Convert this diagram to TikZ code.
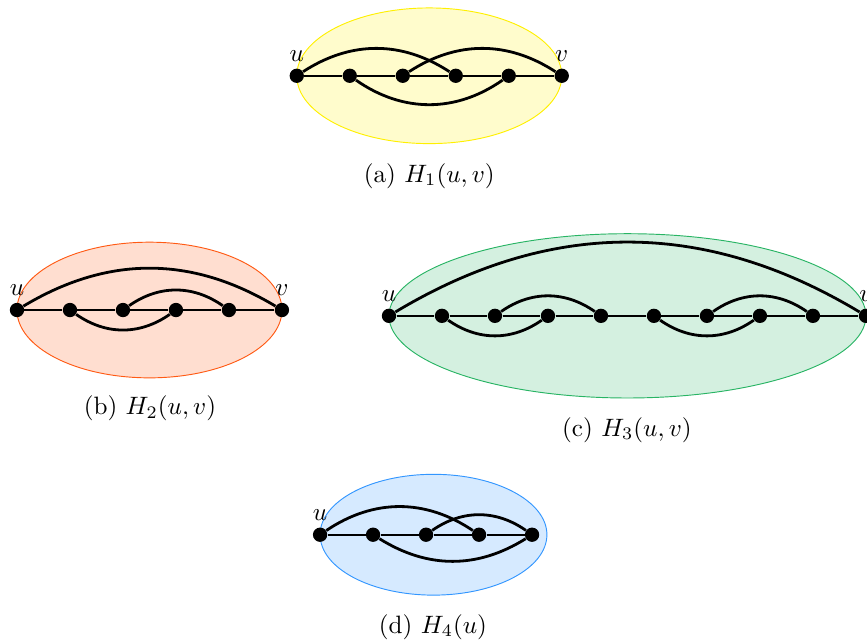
\documentclass[tikz,border=0pt]{standalone}
\usepackage{amsmath}
\usepackage{graphicx}
\usepackage{tikz}
\usetikzlibrary{positioning}
\definecolor{yellowline}{RGB}{255,240,0}
\definecolor{orangeline}{RGB}{255,90,20}
\definecolor{greenline}{RGB}{40,180,100}
\definecolor{blueline}{RGB}{50,150,255}
\newcommand{\vlab}[1]{\scalebox{1.35}{$#1$}}
\newcommand{\subcaptext}[1]{\scalebox{1.35}{#1}}

\begin{document}
\begin{tikzpicture}[
  vtx/.style    = {circle, fill=black, inner sep=0pt, minimum size=2.7mm,
                   label distance=-2.5pt},
  spine/.style  = {line width=1.3pt},
  chord/.style  = {line width=1.5pt},
  blob/.style   = {line width=0.5pt},
  subcap/.style = {inner sep=1pt}
]
\useasboundingbox (0,0) rectangle (16.36,-12.075);

% (a) H_1(u,v)
\draw[blob, yellowline, fill=yellow!20] (8.10,-1.43) ellipse [x radius=2.5cm, y radius=1.28cm];
\node[vtx, label=above:\vlab{u}] (a0) at (5.60,-1.43) {};
\node[vtx] (a1) at (6.60,-1.43) {};
\node[vtx] (a2) at (7.60,-1.43) {};
\node[vtx] (a3) at (8.60,-1.43) {};
\node[vtx] (a4) at (9.60,-1.43) {};
\node[vtx, label=above:\vlab{v}] (a5) at (10.60,-1.43) {};
\draw[spine] (a0) -- (a1) -- (a2) -- (a3) -- (a4) -- (a5);
\draw[chord] (a0) to[bend left=33] (a3);
\draw[chord] (a2) to[bend left=33] (a5);
\draw[chord] (a1) to[bend right=35] (a4);
\node[subcap] (capa) at (8.10,-3.32) {\subcaptext{(a)~$H_1(u,v)$}};

% (b) H_2(u,v)
\draw[blob, orangeline, fill=orangeline!20] (2.82,-5.85) ellipse [x radius=2.5cm, y radius=1.28cm];
\node[vtx, label=above:\vlab{u}] (b0) at (0.32,-5.85) {};
\node[vtx] (b1) at (1.32,-5.85) {};
\node[vtx] (b2) at (2.32,-5.85) {};
\node[vtx] (b3) at (3.32,-5.85) {};
\node[vtx] (b4) at (4.32,-5.85) {};
\node[vtx, label=above:\vlab{v}] (b5) at (5.32,-5.85) {};
\draw[spine] (b0) -- (b1) -- (b2) -- (b3) -- (b4) -- (b5);
\draw[chord] (b0) to[bend left=31] (b5);
\draw[chord] (b2) to[bend left=35] (b4);
\draw[chord] (b1) to[bend right=35] (b3);
\node[subcap] (capb) at (2.83,-7.70) {\subcaptext{(b)~$H_2(u,v)$}};

% (c) H_3(u,v)
\draw[blob, greenline, fill=greenline!20] (11.84,-5.96) ellipse [x radius=4.5cm, y radius=1.55cm];
\node[vtx, label=above:\vlab{u}] (c0) at (7.34,-5.96) {};
\node[vtx] (c1) at (8.34,-5.96) {};
\node[vtx] (c2) at (9.34,-5.96) {};
\node[vtx] (c3) at (10.34,-5.96) {};
\node[vtx] (c4) at (11.34,-5.96) {};
\node[vtx] (c5) at (12.34,-5.96) {};
\node[vtx] (c6) at (13.34,-5.96) {};
\node[vtx] (c7) at (14.34,-5.96) {};
\node[vtx] (c8) at (15.34,-5.96) {};
\node[vtx, label=above:\vlab{v}] (c9) at (16.34,-5.96) {};
\draw[spine] (c0) -- (c1) -- (c2) -- (c3) -- (c4) -- (c5) -- (c6) -- (c7) -- (c8) -- (c9);
\draw[chord] (c0) to[bend left=31] (c9);
\draw[chord] (c2) to[bend left=35] (c4);
\draw[chord] (c1) to[bend right=35] (c3);
\draw[chord] (c6) to[bend left=35] (c8);
\draw[chord] (c5) to[bend right=35] (c7);
\node[subcap] (capc) at (11.83,-8.11) {\subcaptext{(c)~$H_3(u,v)$}};

% (d) H_4(u)
\draw[blob, blueline, fill=blueline!20] (8.18,-10.09) ellipse [x radius=2.14cm, y radius=1.14cm];
\node[vtx, label=above:\vlab{u}] (d0) at (6.04,-10.09) {};
\node[vtx] (d1) at (7.04,-10.09) {};
\node[vtx] (d2) at (8.04,-10.09) {};
\node[vtx] (d3) at (9.04,-10.09) {};
\node[vtx] (d4) at (10.04,-10.09) {};
\draw[spine] (d0) -- (d1) -- (d2) -- (d3) -- (d4);
\draw[chord] (d0) to[bend left=34] (d3);
\draw[chord] (d2) to[bend left=35] (d4);
\draw[chord] (d1) to[bend right=32] (d4);
\node[subcap] (capd) at (8.17,-11.83) {\subcaptext{(d)~$H_4(u)$}};

\end{tikzpicture}
\end{document}
